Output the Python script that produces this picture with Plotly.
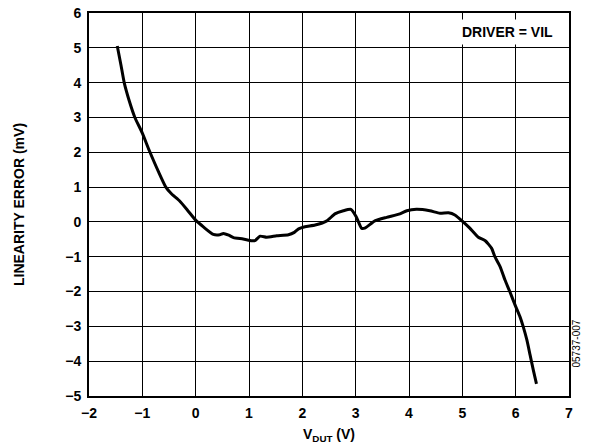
import plotly.graph_objects as go

v_dut = [-1.47, -1.40, -1.34, -1.24, -1.14, -1.00, -0.87, -0.70, -0.56, -0.45, -0.30, -0.15,
         0.00, 0.15, 0.33, 0.45, 0.52, 0.62, 0.71, 0.89, 1.05, 1.11, 1.21, 1.33, 1.52, 1.74,
         1.85, 1.93, 2.05, 2.24, 2.46, 2.61, 2.77, 2.91, 3.01, 3.11, 3.17, 3.36, 3.58, 3.83,
         3.96, 4.14, 4.39, 4.58, 4.74, 4.86, 5.01, 5.14, 5.30, 5.43, 5.55, 5.61, 5.71, 5.80,
         5.89, 5.99, 6.08, 6.14, 6.21, 6.27, 6.33, 6.39]
lin_err = [5.05, 4.50, 4.00, 3.45, 3.00, 2.55, 2.05, 1.45, 1.00, 0.80, 0.60, 0.33,
           0.05, -0.15, -0.36, -0.37, -0.33, -0.38, -0.45, -0.49, -0.54, -0.54, -0.41, -0.44, -0.40, -0.37,
           -0.30, -0.20, -0.14, -0.09, 0.03, 0.23, 0.32, 0.36, 0.15, -0.18, -0.18, 0.03, 0.13, 0.23,
           0.32, 0.36, 0.32, 0.25, 0.26, 0.20, 0.01, -0.18, -0.44, -0.54, -0.76, -1.00, -1.29, -1.67,
           -2.00, -2.39, -2.72, -3.00, -3.39, -3.82, -4.25, -4.65]

x_ticks = [-2, -1, 0, 1, 2, 3, 4, 5, 6, 7]
y_ticks = [-5, -4, -3, -2, -1, 0, 1, 2, 3, 4, 5, 6]

FONT = "Liberation Sans, Arial, sans-serif"
BOLD = dict(family=FONT, size=14, color="black", weight="bold")

fig = go.Figure()
fig.add_trace(go.Scatter(x=v_dut, y=lin_err, mode="lines",
                         line=dict(color="black", width=3, shape="spline", smoothing=0.5),
                         showlegend=False, hoverinfo="skip"))

axis_common = dict(showgrid=True, gridcolor="black", gridwidth=1.2, zeroline=False,
                   showline=True, linecolor="black", linewidth=2, mirror=True,
                   ticks="", tickfont=BOLD, automargin=False, ticklabeloverflow="allow")

fig.update_xaxes(range=[-2, 7], tickvals=x_ticks, ticklabelstandoff=3,
                 title=dict(text="V<sub>DUT</sub> (V)", font=BOLD, standoff=10),
                 **axis_common)
fig.update_yaxes(range=[-5, 6], tickvals=y_ticks, ticklabelstandoff=3,
                 title=dict(text="LINEARITY ERROR (mV)", font=BOLD, standoff=37),
                 **axis_common)

# page body has an 8px default margin, so the figure is drawn 8px in from the window corner
fig.add_annotation(x=0.978, y=0.985, xref="paper", yref="paper", xanchor="right", yanchor="top",
                   text="DRIVER = VIL", showarrow=False, bgcolor="white", borderpad=4,
                   font=BOLD)
fig.add_annotation(x=(583 - 89) / 480, y=(396 - 370) / 383, xref="paper", yref="paper",
                   text="05737-007", showarrow=False, textangle=-90,
                   font=dict(family=FONT, size=10, color="black"))

fig.update_layout(width=582, height=436, margin=dict(l=81, r=21, t=5, b=48),
                  plot_bgcolor="white", paper_bgcolor="white")

fig.write_html("out.html")
